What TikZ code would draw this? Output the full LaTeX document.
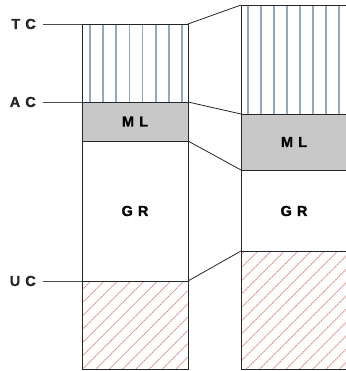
\documentclass[tikz,border=0pt]{standalone}
\usepackage{fontspec}
\setmainfont{Liberation Sans}[BoldFont={Liberation Sans Bold}]
\usetikzlibrary{positioning}
\definecolor{stripeblue}{HTML}{92A8BC}
\definecolor{mlgray}{HTML}{C8C8C8}
\definecolor{hatchred}{HTML}{E08A8A}
\definecolor{leadgray}{HTML}{4A4A4A}
\tikzset{font=\bfseries\fontsize{14.5}{16}\selectfont\addfontfeatures{LetterSpace=35,FakeBold=1.2}}
\tikzset{edge/.style={draw=black!85,line width=0.9pt}}
\tikzset{stripe/.style={draw=stripeblue,line width=1.8pt}}
\tikzset{hatchline/.style={draw=hatchred,line width=0.9pt,dash pattern=on 1.6pt off 0.7pt}}
\tikzset{lead/.style={draw=leadgray,line width=0.9pt}}
\tikzset{link/.style={draw=black!85,line width=0.8pt}}
\tikzset{tag/.style={anchor=east,inner sep=0pt,text=black!85}}

\begin{document}
\begin{tikzpicture}[x=1pt,y=-1pt]
\useasboundingbox (0,0) rectangle (345,371);
\pgfmathsetmacro{\XA}{82}
\pgfmathsetmacro{\XB}{188}
\pgfmathsetmacro{\XC}{241}
\pgfmathsetmacro{\XD}{345}
% corners of the two columns
\coordinate (lTC) at (\XA,24);  \coordinate (rTC) at (\XB,24);
\coordinate (lAC) at (\XA,102); \coordinate (rAC) at (\XB,102);
\coordinate (lML) at (\XA,141); \coordinate (rML) at (\XB,141);
\coordinate (lUC) at (\XA,281); \coordinate (rUC) at (\XB,281);
\coordinate (zTC) at (\XC,5);   \coordinate (zAC) at (\XC,114);
\coordinate (zML) at (\XC,170); \coordinate (zUC) at (\XC,251);
% left column
\fill[mlgray] (lAC) rectangle (rML);
\foreach \i in {0,...,7} \draw[stripe] (90+13.14*\i,24) -- (90+13.14*\i,102);
\begin{scope}
\clip (lUC) rectangle (\XB,369);
\foreach \i in {-1,...,15} \draw[hatchline] (\XA,290+13.3*\i) -- ++(130,-130);
\end{scope}
\draw[edge] (lTC) rectangle (\XB,369);
\draw[edge] (lAC) -- (rAC) (lML) -- (rML) (lUC) -- (rUC);
% right column
\fill[mlgray] (zAC) rectangle (\XD+2,170);
\foreach \i in {0,...,7} \draw[stripe] (247.7+13*\i,5) -- (247.7+13*\i,114);
\begin{scope}
\clip (zUC) rectangle (\XD+2,369);
\foreach \i in {-1,...,17} \draw[hatchline] (\XC,268+13.3*\i) -- ++(140,-140);
\end{scope}
\draw[edge] (\XD+2,5) -- (zTC) -- (\XC,369) -- (\XD+2,369);
\draw[edge] (zAC) -- (\XD+2,114) (zML) -- (\XD+2,170) (zUC) -- (\XD+2,251);
% links
\draw[link] (rTC) -- (zTC);
\draw[link] (rAC) -- (zAC);
\draw[link] (rML) -- (zML);
\draw[link] (rUC) -- (zUC);
% labels
\node[tag] (tc) at (36,24) {TC};
\node[tag] (ac) at (36,102) {AC};
\node[tag] (uc) at (36,281) {UC};
\draw[lead] ([xshift=7pt]tc.east) -- (lTC);
\draw[lead] ([xshift=7pt]ac.east) -- (lAC);
\draw[lead] ([xshift=7pt]uc.east) -- (lUC);
\node (mlA) at (135,121.5) {ML};
\node (grA) at (135,211) {GR};
\node (mlB) at (294,142) {ML};
\node (grB) at (294,211) {GR};
\end{tikzpicture}
\end{document}
